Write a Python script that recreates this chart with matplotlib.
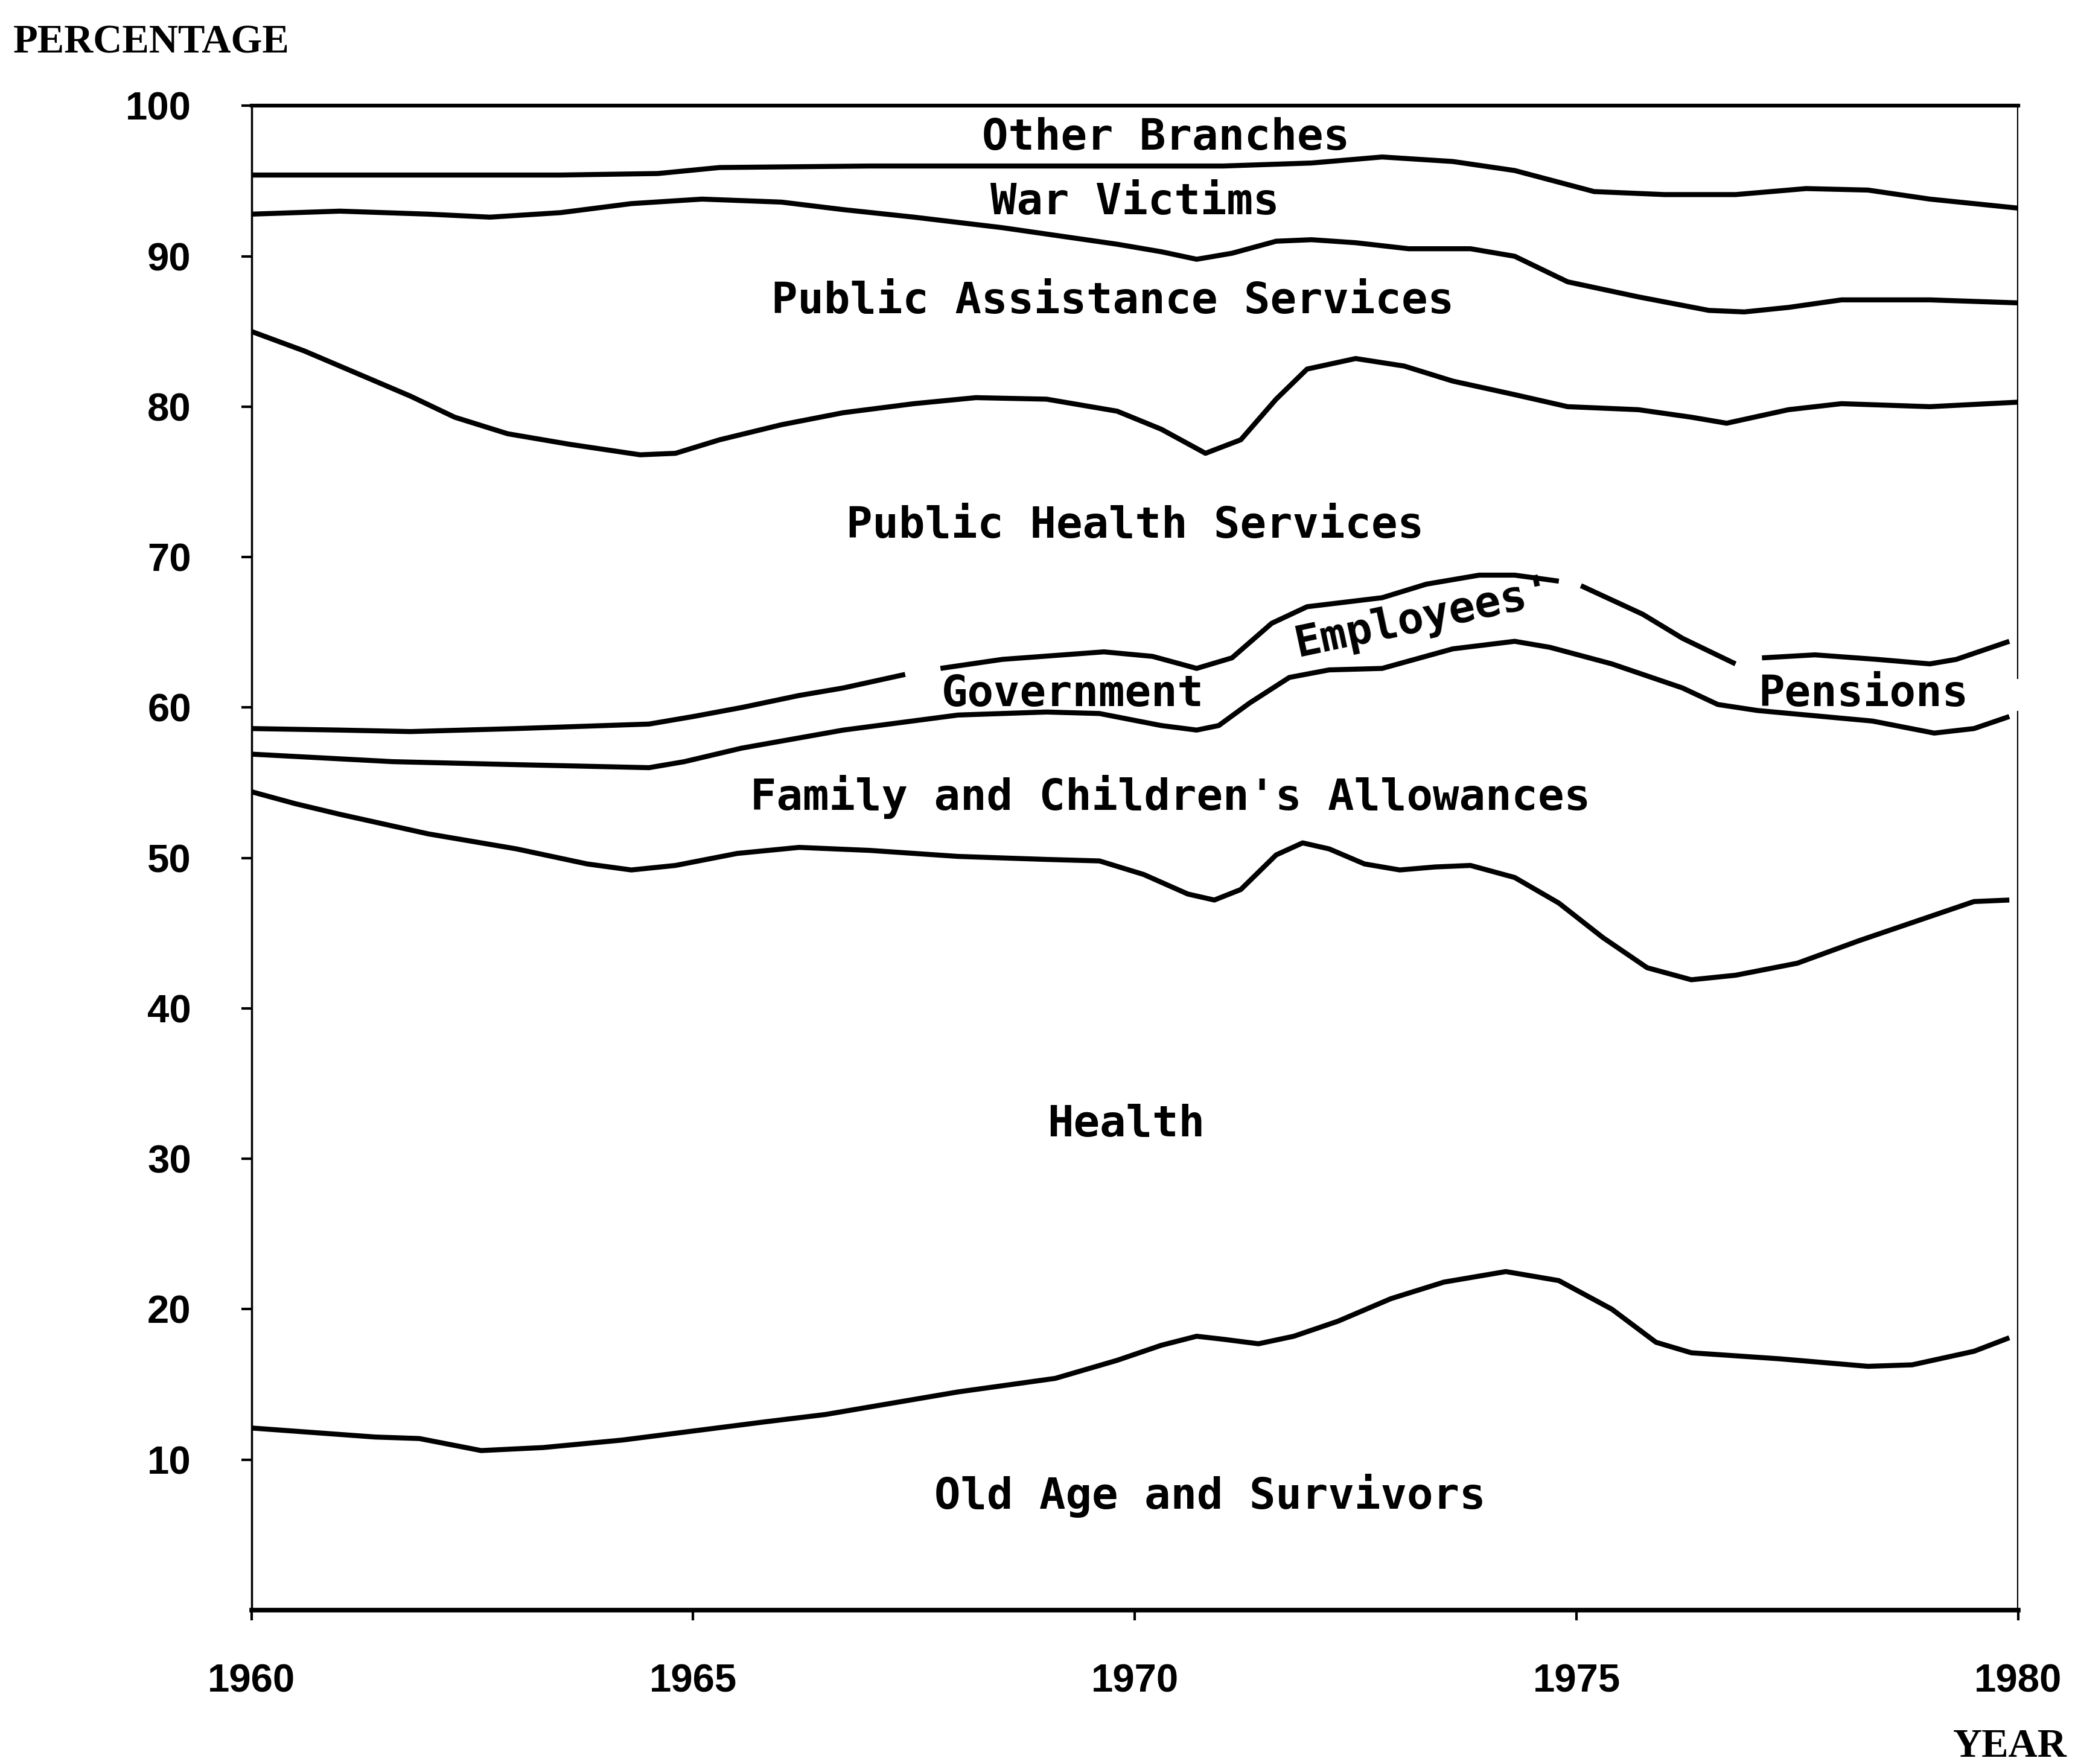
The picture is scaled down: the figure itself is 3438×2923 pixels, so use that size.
import numpy as np
import matplotlib
matplotlib.use("Agg")
import matplotlib.pyplot as plt

# Cumulative percentage boundaries between the branches
# Other Branches / War Victims
other_years = [1960, 1962, 1963.5, 1964.6, 1965.3, 1967, 1969, 1971, 1972, 1972.8,
               1973.6, 1974.3, 1975.2, 1976, 1976.8, 1977.6, 1978.3, 1979, 1980]
other_vals = [95.4, 95.4, 95.4, 95.5, 95.9, 96.0, 96.0, 96.0, 96.2, 96.6,
              96.3, 95.7, 94.3, 94.1, 94.1, 94.5, 94.4, 93.8, 93.2]

# War Victims / Public Assistance Services
war_years = [1960, 1961, 1962, 1962.7, 1963.5, 1964.3, 1965.1, 1966, 1966.7, 1967.5,
             1968.5, 1969.8, 1970.3, 1970.7, 1971.1, 1971.6, 1972, 1972.5, 1973.1,
             1973.8, 1974.3, 1974.9, 1975.7, 1976.5, 1976.9, 1977.4, 1978, 1979, 1980]
war_vals = [92.8, 93.0, 92.8, 92.6, 92.9, 93.5, 93.8, 93.6, 93.1, 92.6,
            91.9, 90.8, 90.3, 89.8, 90.2, 91.0, 91.1, 90.9, 90.5,
            90.5, 90.0, 88.3, 87.3, 86.4, 86.3, 86.6, 87.1, 87.1, 86.9]

# Public Assistance Services / Public Health Services
assist_years = [1960, 1960.6, 1961.2, 1961.8, 1962.3, 1962.9, 1963.6, 1964.4, 1964.8,
                1965.3, 1966, 1966.7, 1967.5, 1968.2, 1969, 1969.8, 1970.3, 1970.8,
                1971.2, 1971.6, 1971.95, 1972.5, 1973.05, 1973.6, 1974.3, 1974.9,
                1975.7, 1976.3, 1976.7, 1977.4, 1978, 1979, 1980]
assist_vals = [85.0, 83.7, 82.2, 80.7, 79.3, 78.2, 77.5, 76.8, 76.9,
               77.8, 78.8, 79.6, 80.2, 80.6, 80.5, 79.7, 78.5, 76.9,
               77.8, 80.5, 82.5, 83.2, 82.7, 81.7, 80.8, 80.0,
               79.8, 79.3, 78.9, 79.8, 80.2, 80.0, 80.3]

# Public Health Services / Employees' Government Pensions (broken around labels)
phs_years = [1960, 1961, 1961.8, 1963, 1964.5, 1965, 1965.55, 1966.2, 1966.7, 1967.4,
             np.nan, 1967.8, 1968.5, 1969.65, 1970.2, 1970.7, 1971.1, 1971.55, 1971.95,
             1972.8, 1973.3, 1973.9, 1974.3, 1974.8, np.nan, 1975.05, 1975.75, 1976.2,
             1976.8, np.nan, 1977.1, 1977.7, 1978.4, 1979.0, 1979.3, 1979.9]
phs_vals = [58.6, 58.5, 58.4, 58.6, 58.9, 59.4, 60.0, 60.8, 61.3, 62.2,
            np.nan, 62.6, 63.2, 63.7, 63.4, 62.6, 63.3, 65.6, 66.7,
            67.3, 68.2, 68.8, 68.8, 68.4, np.nan, 68.1, 66.2, 64.6,
            62.9, np.nan, 63.3, 63.5, 63.2, 62.9, 63.2, 64.4]

# Employees' Government Pensions / Family and Children's Allowances
pension_years = [1960, 1961.6, 1963, 1964.5, 1964.9, 1965.55, 1966.7, 1968, 1969, 1969.6,
                 1970.3, 1970.7, 1970.95, 1971.3, 1971.75, 1972.2, 1972.8, 1973.6,
                 1974.3, 1974.7, 1975.4, 1976.2, 1976.6, 1977.05, 1978.35, 1979.05,
                 1979.5, 1979.9]
pension_vals = [56.9, 56.4, 56.2, 56.0, 56.4, 57.3, 58.5, 59.5, 59.7, 59.6,
                58.8, 58.5, 58.8, 60.3, 62.0, 62.5, 62.6, 63.9,
                64.4, 64.0, 62.9, 61.3, 60.2, 59.8, 59.1, 58.3,
                58.6, 59.4]

# Family and Children's Allowances / Health
family_years = [1960, 1960.5, 1961, 1962, 1963, 1963.8, 1964.3, 1964.8, 1965.5, 1966.2,
                1967, 1968, 1969, 1969.6, 1970.1, 1970.6, 1970.9, 1971.2, 1971.6,
                1971.9, 1972.2, 1972.6, 1973, 1973.4, 1973.8, 1974.3, 1974.8, 1975.3,
                1975.8, 1976.3, 1976.8, 1977.5, 1978.2, 1979, 1979.5, 1979.9]
family_vals = [54.4, 53.6, 52.9, 51.6, 50.6, 49.6, 49.2, 49.5, 50.3, 50.7,
               50.5, 50.1, 49.9, 49.8, 48.9, 47.6, 47.2, 47.9, 50.2,
               51.0, 50.6, 49.6, 49.2, 49.4, 49.5, 48.7, 47.0, 44.7,
               42.7, 41.9, 42.2, 43.0, 44.5, 46.1, 47.1, 47.2]

# Health / Old Age and Survivors
health_years = [1960, 1960.7, 1961.4, 1961.9, 1962.6, 1963.3, 1964.2, 1965, 1965.8,
                1966.5, 1967.2, 1968, 1969.1, 1969.8, 1970.3, 1970.7, 1971.0, 1971.4,
                1971.8, 1972.3, 1972.9, 1973.5, 1974.2, 1974.8, 1975.4, 1975.9,
                1976.3, 1977.3, 1978.3, 1978.8, 1979.5, 1979.9]
health_vals = [12.1, 11.8, 11.5, 11.4, 10.6, 10.8, 11.3, 11.9, 12.5,
               13.0, 13.7, 14.5, 15.4, 16.6, 17.6, 18.2, 18.0, 17.7,
               18.2, 19.2, 20.7, 21.8, 22.5, 21.9, 20.0, 17.8,
               17.1, 16.7, 16.2, 16.3, 17.2, 18.1]

boundaries = [
    (other_years, other_vals),
    (war_years, war_vals),
    (assist_years, assist_vals),
    (phs_years, phs_vals),
    (pension_years, pension_vals),
    (family_years, family_vals),
    (health_years, health_vals),
]

# Band labels: text, x, y, rotation
labels = [
    ("Other Branches", 1970.35, 97.1, 0),
    ("War Victims", 1970.0, 92.8, 0),
    ("Public Assistance Services", 1969.75, 86.2, 0),
    ("Public Health Services", 1970.0, 71.3, 0),
    ("Employees'", 1973.3, 65.2, 12),
    ("Government", 1969.3, 60.1, 0),
    ("Pensions", 1978.25, 60.1, 0),
    ("Family and Children's Allowances", 1970.4, 53.2, 0),
    ("Health", 1969.9, 31.5, 0),
    ("Old Age and Survivors", 1970.85, 6.75, 0),
]

x_ticks = [1960, 1965, 1970, 1975, 1980]
y_ticks = [10, 20, 30, 40, 50, 60, 70, 80, 90, 100]

fig = plt.figure(figsize=(34.38, 29.23), dpi=100)
ax = fig.add_axes([0.1212, 0.0873, 0.9726 - 0.1212, 0.94 - 0.0873])

for years, vals in boundaries:
    ax.plot(years, vals, color="black", linewidth=6, solid_capstyle="butt",
            solid_joinstyle="round")

for text, x, y, rot in labels:
    ax.text(x, y, text, ha="center", va="baseline", rotation=rot,
            rotation_mode="anchor", fontsize=52, fontweight="bold",
            family="DejaVu Sans Mono", color="black")

ax.set_xlim(1960, 1980)
ax.set_ylim(0, 100)
ax.set_xticks(x_ticks)
ax.set_yticks(y_ticks)

tick_font = {"family": "Liberation Sans", "weight": "bold", "size": 47}
ax.set_xticklabels([str(t) for t in x_ticks], fontdict=tick_font)
ax.set_yticklabels([str(t) for t in y_ticks], fontdict=tick_font)
ax.tick_params(axis="x", direction="out", length=12, width=3, pad=52)
ax.tick_params(axis="y", direction="out", length=12, width=3, pad=60)

# frame: right edge is broken next to the Pensions label
ax.spines["top"].set_linewidth(4.5)
ax.spines["bottom"].set_linewidth(5.5)
ax.spines["left"].set_linewidth(2.5)
ax.spines["right"].set_visible(False)
ax.axvline(1980, ymin=0, ymax=0.597, color="black", linewidth=3)
ax.axvline(1980, ymin=0.62, ymax=1, color="black", linewidth=3)

fig.text(0.0064, 0.970, "PERCENTAGE", ha="left", va="baseline",
         family="Liberation Serif", fontweight="bold", fontsize=48)
fig.text(0.9962, 0.004, "YEAR", ha="right", va="baseline",
         family="Liberation Serif", fontweight="bold", fontsize=48)

fig.savefig("out.png", dpi=100)
